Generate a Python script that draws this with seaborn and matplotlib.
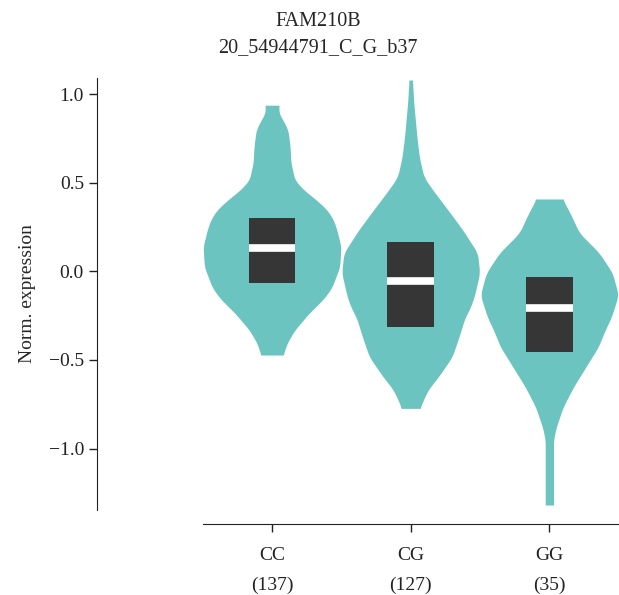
import numpy as np
import matplotlib
matplotlib.use("Agg")
import matplotlib.pyplot as plt
import seaborn as sns

# genotype groups and sample counts
genotypes = ["CC", "CG", "GG"]
counts = [137, 127, 35]

# quartile boxes
q1 = [-0.068, -0.312, -0.455]
medians = [0.133, -0.054, -0.209]
q3 = [0.302, 0.165, -0.032]

# violin outlines: expression level and relative half-width (1 = widest)
cc_y = [0.937, 0.89, 0.853, 0.797, 0.71, 0.61, 0.515, 0.459, 0.40, 0.346, 0.29, 0.233,
        0.137, 0.024, -0.089, -0.145, -0.19, -0.235, -0.331, -0.404, -0.472]
cc_w = [0.10, 0.10, 0.16, 0.23, 0.26, 0.275, 0.33, 0.46, 0.65, 0.80, 0.89, 0.94,
        1.0, 0.98, 0.87, 0.77, 0.66, 0.54, 0.33, 0.22, 0.16]
cg_y = [1.079, 0.949, 0.757, 0.645, 0.532, 0.459, 0.346, 0.233, 0.103, -0.010,
        -0.145, -0.218, -0.257, -0.370, -0.483, -0.596, -0.669, -0.773]
cg_w = [0.025, 0.045, 0.09, 0.125, 0.19, 0.32, 0.54, 0.755, 0.97, 1.0,
        0.92, 0.85, 0.79, 0.70, 0.60, 0.40, 0.25, 0.13]
gg_y = [0.408, 0.329, 0.216, 0.103, -0.010, -0.134, -0.257, -0.331, -0.426,
        -0.539, -0.652, -0.765, -0.878, -0.951, -1.318]
gg_w = [0.19, 0.30, 0.435, 0.725, 0.915, 1.0, 0.90, 0.81, 0.71,
        0.53, 0.35, 0.20, 0.10, 0.06, 0.06]
profiles = [(cc_y, cc_w), (cg_y, cg_w), (gg_y, gg_w)]

yticks = [-1.0, -0.5, 0.0, 0.5, 1.0]

sns.set_style("ticks")
plt.rcParams["font.family"] = ["Liberation Serif", "DejaVu Serif"]
plt.rcParams["axes.edgecolor"] = "#222222"
plt.rcParams["xtick.color"] = "#222222"
plt.rcParams["ytick.color"] = "#222222"
plt.rcParams["xtick.labelsize"] = 14
plt.rcParams["ytick.labelsize"] = 14

violin_color = "#6cc4c1"
box_color = "#363636"

fig = plt.figure(figsize=(6.19, 5.95), dpi=100)
ax = fig.add_axes([0.3275, 0.1429, 0.672, 0.7265])
sns.despine(ax=ax, offset={"left": 76, "bottom": 10})


def smooth_outline(ys, ws, n=400, k=15):
    # soften the straight segments between the read-off points
    yy = np.linspace(ys[0], ys[-1], n)
    ww = np.interp(yy, ys[::-1], ws[::-1])
    pad = np.pad(ww, k // 2, mode="edge")
    ww = np.convolve(pad, np.ones(k) / k, mode="valid")
    return yy, ww


for i, (ys, ws) in enumerate(profiles):
    yy, ww = smooth_outline(ys, ws)
    half = ww * 0.4975
    ax.fill_betweenx(yy, i - half, i + half, color=violin_color, linewidth=0)

ax.bar(range(3), np.array(q3) - np.array(q1), bottom=q1, width=0.336,
       color=box_color, linewidth=0, zorder=3)
ax.hlines(medians, np.arange(3) - 0.168, np.arange(3) + 0.168,
          color="white", linewidth=5.5, zorder=4)

ax.set_xlim(-0.5, 2.5)
ax.set_ylim(-1.346, 1.092)
ax.set_xticks(range(3))
ax.set_xticklabels([f"{g}\n({n})" for g, n in zip(genotypes, counts)])
for lab in ax.get_xticklabels():
    lab.set_linespacing(1.95)
ax.set_yticks(yticks)
ax.set_yticklabels([f"{v:.1f}".replace("-", "\u2212") for v in yticks])
ax.tick_params(axis="both", length=5.5, width=1.0)
ax.tick_params(axis="x", pad=11)
ax.tick_params(axis="y", pad=4)
ax.set_ylabel("Norm. expression", fontsize=14)
ax.yaxis.set_label_coords(-0.40, 0.5)

fig.text(318 / 619, 1 - 22 / 595, "FAM210B", ha="center", va="center", fontsize=14.5)
fig.text(318 / 619, 1 - 48 / 595, "20_54944791_C_G_b37", ha="center", va="center", fontsize=14.5)

fig.savefig("out.png", dpi=100)
